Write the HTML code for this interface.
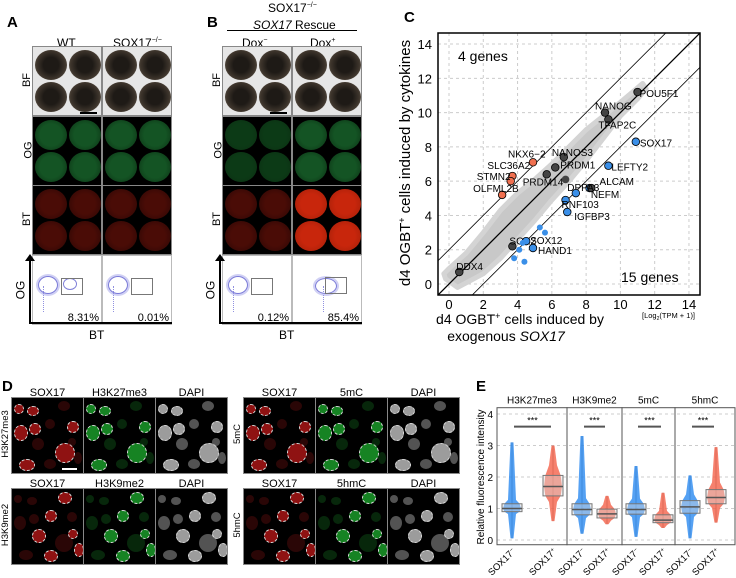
<!DOCTYPE html>
<html><head><meta charset="utf-8"><style>
body{margin:0;width:736px;height:578px;background:#fff;font-family:"Liberation Sans",sans-serif;position:relative;overflow:hidden}
.abs{position:absolute}
.lbl{position:absolute;font-weight:bold;font-size:15px}
.t{position:absolute;font-size:11px;white-space:nowrap}
.img{position:absolute;overflow:hidden;outline:1px solid #888}
.rot{position:absolute;transform:rotate(-90deg);transform-origin:center;font-size:11px;white-space:nowrap}
</style></head><body>
<div class="lbl" style="left:7px;top:14px">A</div>
<div class="lbl" style="left:207px;top:14px">B</div>
<div class="t" style="left:57px;top:36px;font-size:12px">WT</div>
<div class="t" style="left:113px;top:36px;font-size:12px">SOX17<sup style="font-size:7px">−/−</sup></div>
<div class="t" style="left:268px;top:1px;font-size:12px">SOX17<sup style="font-size:7px">−/−</sup></div>
<div class="t" style="left:253px;top:18px;font-size:12px"><i>SOX17</i> Rescue</div>
<div class="abs" style="left:227px;top:30px;width:130px;height:1px;background:#000"></div>
<div class="t" style="left:242px;top:36px;font-size:12px">Dox<sup style="font-size:7px">−</sup></div>
<div class="t" style="left:310px;top:36px;font-size:12px">Dox<sup style="font-size:7px">+</sup></div>
<div id="ab"></div>

<div class="lbl" style="left:404px;top:9px">C</div>
<svg id="c" class="abs" style="left:380px;top:0" width="356" height="352"></svg>

<div class="lbl" style="left:2px;top:378px">D</div>
<div id="d"></div>

<div class="lbl" style="left:476px;top:378px">E</div>
<svg id="e" class="abs" style="left:470px;top:380px" width="266" height="198"></svg>

<script>
const ab=document.getElementById('ab');
const cols=[33,103,223,293], rows=[47,117,186,256];
const pct=['8.31%','0.01%','0.12%','85.4%'];
const sph=[[18,18],[52,18],[18,50],[52,50]];
cols.forEach((cx,ci)=>{
 rows.forEach((ry,ri)=>{
  const d=document.createElement('div');d.className='img';
  
  
  d.style.cssText+=`left:${cx}px;top:${ry}px;width:68px;height:68px;`;
  let html='';
  if(ri===0){d.style.background='#e6e6e6';
   sph.forEach(p=>html+=`<div style="position:absolute;left:${p[0]-16}px;top:${p[1]-15}px;width:32px;height:30px;border-radius:50%;background:radial-gradient(circle,#1e1a16 35%,#3e352c 65%,#8c8275 100%)"></div>`);
   if(ci===0||ci===2)html+=`<div style="position:absolute;left:47px;top:65px;width:17px;height:2px;background:#000"></div>`;
  }else if(ri===1){d.style.background='#000';
   const g=ci===2?'#0c3a16':'#145424';
   sph.forEach(p=>html+=`<div style="position:absolute;left:${p[0]-16}px;top:${p[1]-15}px;width:32px;height:30px;border-radius:50%;background:radial-gradient(circle,${g} 50%,#0a2e12 100%)"></div>`);
  }else if(ri===2){d.style.background='#000';
   const r=ci===3?'#c8260c':'#4a0c06';
   sph.forEach(p=>html+=`<div style="position:absolute;left:${p[0]-16}px;top:${p[1]-15}px;width:32px;height:30px;border-radius:50%;background:radial-gradient(circle,${r} 45%,${ci===3?'#a01e08':'#2a0604'} 100%)"></div>`);
  }else{d.style.background='#fff';d.style.outline='1px solid #bbb';
   const hot=ci===3;
   html+=`<div style="position:absolute;left:${hot?22:5}px;top:${hot?22:20}px;width:${hot?20:18}px;height:${hot?14:16}px;border-radius:50%;border:1px solid #7a7ad8;box-shadow:0 0 0 2px #d0d0f4"></div>`;
   html+=`<div style="position:absolute;left:${hot?30:10}px;top:30px;width:14px;height:26px;border-left:1px dotted #9090e0"></div>`;
   if(ci===0)html+=`<div style="position:absolute;left:30px;top:22px;width:12px;height:10px;border-radius:50%;border:1px solid #8080d8"></div>`;
   html+=`<div style="position:absolute;left:${ci==3?32:28}px;top:${ci==3?21:22}px;width:20px;height:15px;border:1px solid #777"></div>`;
   html+=`<div style="position:absolute;right:2px;bottom:0px;font-size:11px">${pct[ci]}</div>`;
  }
  d.innerHTML=html;ab.appendChild(d);
 });
});
[['BF',81],['OG',151],['BT',220]].forEach(([t,y])=>{
 [28,218].forEach(x=>{
  const e=document.createElement('div');e.className='rot';e.textContent=t;
  
  
  e.style.left=(x-8)+'px';e.style.top=(y-7)+'px';ab.appendChild(e);
 });
});
[29,219].forEach(x=>{
 const a=document.createElement('div');
 
 
 a.innerHTML=`<div style="position:absolute;left:${x}px;top:259px;width:1.5px;height:64px;background:#000"></div>
 <div style="position:absolute;left:${x-4}px;top:254px;width:0;height:0;border-left:5px solid transparent;border-right:5px solid transparent;border-bottom:7px solid #000"></div>
 <div style="position:absolute;left:${x}px;top:322px;width:143px;height:1.5px;background:#000"></div>
 <div class="rot" style="left:${x-18}px;top:283px;font-size:12px">OG</div>
 <div style="position:absolute;left:${x+60}px;top:328px;font-size:12px">BT</div>`;
 ab.appendChild(a);
});

/* ---------- Panel C scatter ---------- */
const cloudX=[-0.2,0.5,2,3,4,5,6,7,8,9,10,11,11.5,11.3,10,9,8,7,6,5,4,3,2,1,0,-0.3];
const cloudY=[0.3,-0.2,0.6,1.5,2.6,3.7,4.9,6,7.2,8.5,9.8,10.8,11.4,11.7,10.6,9.8,9,8,7,6.1,5.3,4.3,3.0,1.8,0.9,0.6];
const geneNames=['POU5F1','NANOG','TFAP2C','SOX17','LEFTY2','ALCAM','DPPA3','NEFM','RNF103','IGFBP3','NKX6−2','SLC36A2','STMN2','OLFML2B','NANOS3','PRDM1','PRDM14','','SOX2','SOX12','HAND1','DDX4','','','','','',''];
const geneX=[11.0,9.1,9.3,10.9,9.3,8.2,8.3,7.4,6.8,6.9,4.9,3.7,3.6,3.1,6.7,6.2,5.7,6.8,3.7,4.5,4.9,0.6,5.3,5.6,4.1,3.8,4.4,4.3];
const geneY=[11.2,10.0,9.6,8.3,6.9,5.6,5.6,5.3,4.9,4.2,7.1,6.3,6.0,5.2,7.4,6.8,6.4,6.1,2.2,2.5,2.1,0.7,3.3,3.0,2.0,1.5,1.3,2.4];
const geneCls=['k','k','k','b','b','b','k','b','b','b','r','r','r','r','k','k','k','k','k','b','b','k','b','b','b','b','b','b'];
const labelDX=[-2,-14,-14,0,-1,6,-28,11,-8,3,-29,-29,-38,-33,-16,1,-28,0,-7,0,1,-7,0,0,0,0,0,0];
const labelDY=[1,-7,5,1,1,-7,-1,1,4,4,-9,-11,-5,-7,-5,-3,7,0,-6,-1,2,-6,0,0,0,0,0,0];
const xTicks=[0,2,4,6,8,10,12,14], yTicks=[0,2,4,6,8,10,12,14];
const ns='http://www.w3.org/2000/svg';
function mk(p,tag,at){const e=document.createElementNS(ns,tag);for(const k in at)e.setAttribute(k,at[k]);p.appendChild(e);return e;}
const C=document.getElementById('c');
const L=58,R=320,T=33,B=295;
const sx=v=>69+v*17.14, sy=v=>284-v*17.14;
const cg=mk(C,'defs',{});const cp=mk(cg,'clipPath',{id:'cc'});mk(cp,'rect',{x:L,y:T,width:R-L,height:B-T});
yTicks.forEach(v=>{
 const g=mk(C,'line',{x1:L,x2:R,y1:sy(v),y2:sy(v),stroke:'#ccc','stroke-dasharray':'3,3'});
 
 const t=mk(C,'text',{x:L-6,y:sy(v)+5,'text-anchor':'end','font-size':13});t.textContent=v;
 
});
xTicks.forEach(v=>{
 const g=mk(C,'line',{y1:T,y2:B,x1:sx(v),x2:sx(v),stroke:'#ccc','stroke-dasharray':'3,3'});
 
 const t=mk(C,'text',{x:sx(v),y:B+14,'text-anchor':'middle','font-size':13});t.textContent=v;
 
});
const gc=mk(C,'g',{'clip-path':'url(#cc)'});
const cloud=mk(gc,'polygon',{points:cloudX.map((x,i)=>sx(x)+','+sy(cloudY[i])).join(' '),fill:'#c8c8c8',stroke:'#d4d4d4','stroke-width':5,'stroke-linejoin':'round'});

[-2,0,2].forEach(o=>{
 const l=mk(gc,'line',{x1:sx(-1),y1:sy(-1+o),x2:sx(16),y2:sy(16+o),stroke:'#000','stroke-width':o?0.8:1.3});
 
});
const colr={k:'#444',b:'#3a8fe8',r:'#f07050'};
geneX.forEach((x,i)=>{
 const c=mk(C,'circle',{cx:sx(x),cy:sy(geneY[i]),r:geneNames[i]||geneCls[i]==='k'?3.8:3,fill:colr[geneCls[i]],stroke:geneNames[i]?'#000':'none','stroke-width':0.8});
 
 if(geneNames[i]){
  const t=mk(C,'text',{x:sx(x)+labelDX[i]+4,y:sy(geneY[i])+labelDY[i]+4,'font-size':10});t.textContent=geneNames[i];
  
 }
});
mk(C,'rect',{x:L,y:T,width:R-L,height:B-T,fill:'none',stroke:'#000','stroke-width':1.5});
[['4 genes',78,61,14],['15 genes',241,282,14]].forEach(([s,x,y,f])=>{const t=mk(C,'text',{x,y,'font-size':f});t.textContent=s;});
const yt=mk(C,'text',{x:0,y:0,'font-size':15,'text-anchor':'middle',transform:'translate(30,163) rotate(-90)'});
yt.innerHTML='d4 OGBT<tspan dy="-5" font-size="9">+</tspan><tspan dy="5"> cells induced by cytokines</tspan>';

const xt1=mk(C,'text',{x:140,y:324,'font-size':14,'text-anchor':'middle'});
xt1.innerHTML='d4 OGBT<tspan dy="-5" font-size="9">+</tspan><tspan dy="5"> cells induced by</tspan>';

const xt2=mk(C,'text',{x:126,y:341,'font-size':14,'text-anchor':'middle'});
xt2.innerHTML='exogenous <tspan font-style="italic">SOX17</tspan>';

const un=mk(C,'text',{x:262,y:318,'font-size':7.5});un.innerHTML='[Log<tspan font-size="5" dy="2">2</tspan><tspan dy="-2">(TPM + 1)]</tspan>';


/* ---------- Panel D ---------- */
const dd=document.getElementById('d');
const nuc=[[20,12,5,4],[52,8,6,5],[8,34,6,7],[38,26,5,5],[60,28,5,5],[26,46,6,6],[52,54,9,9],[66,60,4,6],[14,66,7,5],[38,66,6,5],[22,30,5,5],[60,44,4,4],[6,10,4,4]];
const dTiles=[
 {x:12,y:398,h:['SOX17','H3K27me3','DAPI'],row:'H3K27me3',hy:387},
 {x:12,y:489,h:['SOX17','H3K9me2','DAPI'],row:'H3K9me2',hy:478},
 {x:244,y:398,h:['SOX17','5mC','DAPI'],row:'5mC',hy:387},
 {x:244,y:489,h:['SOX17','5hmC','DAPI'],row:'5hmC',hy:478}];
const chCol=['#a81616','#1a9a2a','#b8b8b8'];
dTiles.forEach((g,gi)=>{
 g.h.forEach((h,k)=>{
  const d=document.createElement('div');d.className='img';
  
  
  d.style.cssText+=`left:${g.x+k*72}px;top:${g.y}px;width:71px;height:75px;background:#000;`;
  let html='';
  nuc.forEach((n,j)=>{const hl=(j+gi)%2===0;
   html+=`<div style="position:absolute;left:${n[0]-n[2]}px;top:${n[1]-n[3]}px;width:${2*n[2]}px;height:${2*n[3]}px;border-radius:50%;background:${chCol[k]};opacity:${hl?0.85:(k===2?0.45:0.25)};${hl?'border:1px dashed #fff;':''}"></div>`;});
  if(gi===0&&k===0)html+=`<div style="position:absolute;left:50px;top:70px;width:15px;height:2px;background:#fff"></div>`;
  d.innerHTML=html;dd.appendChild(d);
  const t=document.createElement('div');t.className='t';t.textContent=h;
  
  
  t.style.cssText+=`left:${g.x+k*72}px;top:${g.hy}px;width:71px;text-align:center;font-size:11px`;dd.appendChild(t);
 });
 const r=document.createElement('div');r.className='rot';r.textContent=g.row;
 
 
 r.style.cssText+=`left:${g.x-31}px;top:${g.y+30}px;width:50px;height:12px;text-align:center;font-size:9.5px`;dd.appendChild(r);
});

/* ---------- Panel E ---------- */
const facets=['H3K27me3','H3K9me2','5mC','5hmC'];
const medians=[1.0,1.7,0.97,0.83,0.97,0.63,1.05,1.35];
const q1s=[0.9,1.4,0.8,0.7,0.82,0.55,0.85,1.15];
const q3s=[1.15,2.05,1.15,0.98,1.15,0.8,1.25,1.6];
const mins=[0.05,0.6,0.2,0.5,0.1,0.38,0.05,0.55];
const maxs=[3.1,3.0,3.3,1.4,2.35,1.5,2.05,2.95];
const eTicks=[0,1,2,3,4];
const E=document.getElementById('e');
const ox=470,oy=380;
const ey=v=>540-oy-v*31.5;
const fx=[497,567,622,675,735].map(v=>v-ox);
const bx=[512,553,582,607,636,663,690,716].map(v=>v-ox);
eTicks.forEach(v=>{
 const l=mk(E,'line',{x1:fx[0],x2:fx[4],y1:ey(v),y2:ey(v),stroke:'#ccc','stroke-dasharray':'3,3'});
 
 const t=mk(E,'text',{x:fx[0]-4,y:ey(v)+4,'font-size':10,'text-anchor':'end'});t.textContent=v;
 
});
medians.forEach((m,i)=>{
 const x=bx[i],c=i%2?'#f4624a':'#2a8af0';
 const wl=mk(E,'line',{x1:x,x2:x,y1:ey(mins[i]),y2:ey(maxs[i]),stroke:'#888'});
 
 const iq=q3s[i]-q1s[i];
 const pts=[];const hw=9;
 [[mins[i],1.5],[q1s[i]-iq*0.3,4],[q1s[i],hw*0.85],[m,hw],[q3s[i],hw*0.85],[q3s[i]+iq*0.5,4],[maxs[i],1.5]].forEach(([v,w])=>pts.push([x+w,ey(v)]));
 const left=pts.map(p=>[2*x-p[0],p[1]]).reverse();
 const vp=mk(E,'polygon',{points:pts.concat(left).map(p=>p.join(',')).join(' '),fill:c,opacity:0.8});
 
 const b=mk(E,'rect',{x:x-10,y:ey(q3s[i]),width:20,height:ey(q1s[i])-ey(q3s[i]),fill:'rgba(220,220,220,0.4)',stroke:'#777'});
 
 const ml=mk(E,'line',{x1:x-10,x2:x+10,y1:ey(m),y2:ey(m),stroke:'#555','stroke-width':1.5});
 
 const t=mk(E,'text',{'font-size':9.5,'text-anchor':'end',transform:`translate(${x+4},${ey(0)+12}) rotate(-45)`});
 t.innerHTML=`SOX17<tspan dy="-3" font-size="6">${i%2?'+':'−'}</tspan>`;
 
});
facets.forEach((f,i)=>{
 const r=mk(E,'rect',{x:fx[i],y:ey(4.2),width:fx[i+1]-fx[i],height:ey(-0.15)-ey(4.2),fill:'none',stroke:'#555'});
 
 const t=mk(E,'text',{x:(fx[i]+fx[i+1])/2,y:ey(4.2)-4,'font-size':10,'text-anchor':'middle'});t.textContent=f;
 
 const s=mk(E,'line',{x1:bx[2*i]+2,x2:bx[2*i+1]-2,y1:ey(3.6),y2:ey(3.6),stroke:'#555','stroke-width':2});
 
 const st=mk(E,'text',{x:(bx[2*i]+bx[2*i+1])/2,y:ey(3.6)-3,'font-size':9,'text-anchor':'middle'});st.textContent='***';
 
});
const et=mk(E,'text',{'font-size':10,'text-anchor':'middle',transform:`translate(${484-ox},${ey(2)}) rotate(-90)`});
et.textContent='Relative fluorescence intensity';

</script>
</body></html>
